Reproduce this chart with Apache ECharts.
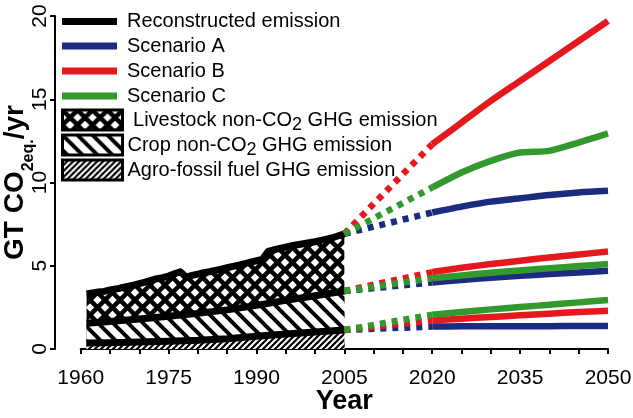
<!DOCTYPE html>
<html><head><meta charset="utf-8">
<script src="https://cdn.jsdelivr.net/npm/echarts@6/dist/echarts.min.js"></script>
<style>html,body{margin:0;padding:0;background:#fff}#c{width:633px;height:418px}</style>
</head><body><div id="c"></div>
<script>
// ---- data ----
const histYears = [1961,1962,1963,1964,1965,1966,1967,1968,1969,1970,1971,1972,1973,1974,1975,1976,1977,1978,1979,1980,1981,1982,1983,1984,1985,1986,1987,1988,1989,1990,1991,1992,1993,1994,1995,1996,1997,1998,1999,2000,2001,2002,2003,2004,2005];
// top of stacked livestock layer (= total reconstructed emission), GT CO2eq/yr
const livestockTop = [3.30,3.36,3.42,3.46,3.55,3.60,3.68,3.76,3.84,3.93,4.02,4.12,4.22,4.28,4.38,4.52,4.64,4.32,4.42,4.50,4.58,4.64,4.72,4.80,4.88,4.96,5.04,5.12,5.22,5.30,5.38,5.86,5.96,6.04,6.12,6.20,6.26,6.32,6.38,6.44,6.52,6.60,6.68,6.80,6.92];
const stepYears = [1961,1965,1970,1975,1980,1985,1990,1995,2000,2005];
// top of stacked crop layer
const cropTop = [1.54,1.65,1.80,1.97,2.14,2.35,2.62,2.92,3.20,3.48];
// top of agro-fossil fuel layer
const fossilTop = [0.36,0.38,0.42,0.46,0.52,0.62,0.76,0.90,1.02,1.14];

const scenYears = [2020,2025,2030,2035,2040,2045,2050];
const scenATotal  = [8.2,8.55,8.85,9.05,9.25,9.4,9.5];
const scenACrop   = [4.0,4.15,4.28,4.4,4.5,4.6,4.7];
const scenAFossil = [1.35,1.36,1.36,1.37,1.37,1.38,1.38];
const scenBTotal  = [12.3,13.6,14.9,16.1,17.3,18.5,19.7];
const scenBCrop   = [4.62,4.88,5.1,5.3,5.5,5.68,5.85];
const scenBFossil = [1.72,1.82,1.92,2.02,2.12,2.22,2.3];
const scenCTotal  = [9.7,10.6,11.3,11.8,11.9,12.4,12.95];
const scenCCrop   = [4.25,4.42,4.58,4.72,4.85,4.98,5.1];
const scenCFossil = [2.06,2.22,2.38,2.52,2.66,2.8,2.94];

const xTickLabels = [1960,1975,1990,2005,2020,2035,2050];
const yTickLabels = [0,5,10,15,20];

const legendNames = ['Reconstructed emission','Scenario A','Scenario B','Scenario C',
  'Livestock non-CO2 GHG emission','Crop non-CO2 GHG emission','Agro-fossil fuel GHG emission'];

// ---- styles ----
const COL = {A:'#1c2b7f', B:'#e5171f', C:'#329a2d'};

function hatch(size, lw, dirs) {
  const c = document.createElement('canvas');
  c.width = size; c.height = size;
  const g = c.getContext('2d');
  g.fillStyle = '#fff'; g.fillRect(0,0,size,size);
  g.strokeStyle = '#000'; g.lineWidth = lw;
  for (const k of [-2*size,-size,0,size,2*size]) {
    if (dirs.indexOf('\\') >= 0) { g.beginPath(); g.moveTo(k-size,-size); g.lineTo(k+2*size,2*size); g.stroke(); }
    if (dirs.indexOf('/') >= 0) { g.beginPath(); g.moveTo(k-size,2*size); g.lineTo(k+2*size,-size); g.stroke(); }
  }
  return {image: c, repeat: 'repeat'};
}
const patCross = hatch(15, 4.5, '\\/');
const patCrop = hatch(15, 4, '\\');
const patFossil = hatch(6, 2.2, '/');

function pair(xs, ys) { return xs.map((x,i) => [x, ys[i]]); }

const series = [];
function area(name, xs, ys, pat) {
  series.push({name, type:'line', data: pair(xs, ys), symbol:'none', clip:false,
    lineStyle:{width:0}, itemStyle:{color:'#000'},
    areaStyle:{color: pat, opacity:1}, z:1, silent:true});
}
area(legendNames[4], histYears, livestockTop, patCross);
area(legendNames[5], stepYears, cropTop, patCrop);
area(legendNames[6], stepYears, fossilTop, patFossil);
function recon(xs, ys) {
  series.push({name: legendNames[0], type:'line', data: pair(xs, ys), symbol:'none', clip:false,
    lineStyle:{width:7, color:'#000', join:'round'}, itemStyle:{color:'#000'}, z:3});
}
recon(histYears, livestockTop);
recon(stepYears, cropTop);
recon(stepYears, fossilTop);

const scen = [
  {name:'Scenario A', color: COL.A, levels:[scenATotal, scenACrop, scenAFossil]},
  {name:'Scenario B', color: COL.B, levels:[scenBTotal, scenBCrop, scenBFossil]},
  {name:'Scenario C', color: COL.C, levels:[scenCTotal, scenCCrop, scenCFossil]}
];
const starts = [livestockTop[livestockTop.length-1], cropTop[cropTop.length-1], fossilTop[fossilTop.length-1]];
const startYear = histYears[histYears.length-1];
scen.forEach(s => {
  s.levels.forEach((lv, i) => {
    series.push({name: s.name, type:'line', symbol:'none', clip:false, z:4,
      data: [[startYear, starts[i]], [scenYears[0], lv[0]]],
      itemStyle:{color:s.color},
      lineStyle:{color:s.color, width:6.5, type:[6,6], cap:'butt'}});
  });
});
scen.forEach(s => {
  s.levels.forEach(lv => {
    series.push({name: s.name, type:'line', symbol:'none', clip:false, z:5, smooth:0.25,
      data: pair(scenYears, lv), itemStyle:{color:s.color},
      lineStyle:{color:s.color, width:6.5, join:'round'}});
  });
});

const FONT = 'Liberation Sans, Arial, Helvetica, sans-serif';
const rows = [
  {name: legendNames[0], c: 21.5, kind:'line', color:'#000'},
  {name: legendNames[1], c: 46, kind:'line', color: COL.A},
  {name: legendNames[2], c: 71, kind:'line', color: COL.B},
  {name: legendNames[3], c: 96, kind:'line', color: COL.C},
  {name: legendNames[4], c: 120, kind:'box', pat: patCross},
  {name: legendNames[5], c: 145, kind:'box', pat: patCrop},
  {name: legendNames[6], c: 170, kind:'box', pat: patFossil}
];
const legends = rows.map(r => {
  const isLine = r.kind === 'line';
  const item = {name: r.name, icon:'rect',
    itemStyle: isLine ? {color: r.color, borderWidth:0} : {color: r.pat, borderColor:'#000', borderWidth:3}};
  return {
    show:true, left: isLine ? 62 : 61, top: r.c - 14, padding:0, orient:'vertical',
    itemWidth: isLine ? 55 : 60, itemHeight: isLine ? 7 : 20, selectedMode:false,
    data:[item],
    formatter: n => {
      if (n === legendNames[4]) return '{m| Livestock non-CO}{sub|2}{m| GHG emission}';
      if (n === legendNames[5]) return '{m|Crop non-CO}{sub|2}{m| GHG emission}';
      return n;
    },
    textStyle:{fontSize:20, color:'#000', fontFamily: FONT, lineHeight:28,
      padding: isLine ? [0,0,0,5] : 0,
      rich:{
        m:{fontSize:20, color:'#000', fontFamily: FONT, lineHeight:28, verticalAlign:'middle'},
        sub:{fontSize:18, color:'#000', fontFamily: FONT, verticalAlign:'bottom', lineHeight:18}}}
  };
});

const chart = echarts.init(document.getElementById('c'), null, {renderer:'canvas'});
chart.setOption({
  animation:false,
  backgroundColor:'#fff',
  textStyle:{fontFamily: FONT},
  grid:{left:80.7, right:25, top:16, bottom:69, containLabel:false, outerBoundsMode:'none'},
  legend: legends,
  xAxis:{type:'value', min:1960, max:2050, interval:5, offset:12.7,
    axisLine:{show:true, lineStyle:{color:'#000', width:2}},
    axisTick:{show:true, length:5, lineStyle:{color:'#000', width:2}},
    splitLine:{show:false},
    axisLabel:{interval:0, fontSize:21, color:'#000', margin:6, fontFamily: FONT,
      formatter: v => xTickLabels.indexOf(v) >= 0 ? String(v) : ''},
    name:'Year', nameLocation:'middle', nameGap:26, nameMoveOverlap:false,
    nameTextStyle:{fontSize:27, fontWeight:'bold', color:'#000', fontFamily: FONT, lineHeight:27}},
  yAxis:{type:'value', min:0, max:20, interval:5, offset:25.7,
    axisLine:{show:true, lineStyle:{color:'#000', width:2}},
    axisTick:{show:true, length:5, lineStyle:{color:'#000', width:2}},
    splitLine:{show:false},
    axisLabel:{rotate:90, fontSize:21, color:'#000', margin:4, fontFamily: FONT,
      formatter: v => yTickLabels.indexOf(v) >= 0 ? String(v) : ''},
    name:'{b|GT CO}{s|2eq.}{b|/yr}', nameLocation:'middle', nameRotate:90, nameGap:18, nameMoveOverlap:false,
    nameTextStyle:{color:'#000', fontFamily: FONT, fontWeight:'bold',
      rich:{b:{fontSize:28, fontWeight:'bold', color:'#000', fontFamily: FONT, lineHeight:44},
            s:{fontSize:16, fontWeight:'bold', color:'#000', fontFamily: FONT, lineHeight:17, verticalAlign:'bottom'}}}},
  series
});
</script></body></html>
